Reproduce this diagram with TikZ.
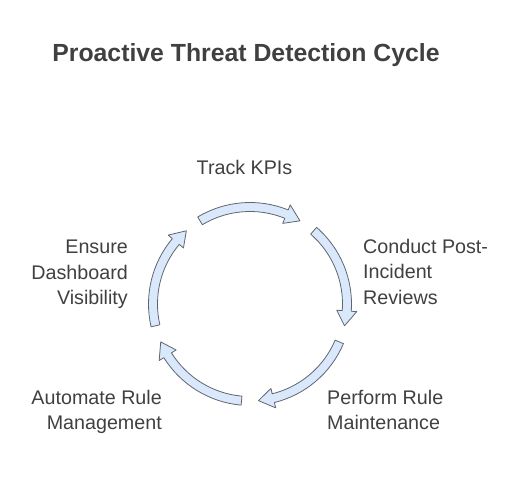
\documentclass[tikz,border=0pt]{standalone}
\usepackage{fontspec}
\setmainfont{Liberation Sans}
\usepackage{tikz}

\definecolor{arrowfill}{HTML}{DAE8FC}
\definecolor{arrowline}{HTML}{5F6670}
\definecolor{labeltext}{HTML}{404040}

% one curved block arrow of the cycle: #1 tail angle, #2 tip angle
\newcommand{\cyclearrow}[2]{%
  \pgfmathsetmacro{\headang}{#2+8.9}
  \draw[cyclearrow] (#1:101.5pt) arc[start angle=#1, end angle=\headang, radius=101.5pt]
     -- (\headang:107pt) -- (#2:97pt) -- (\headang:87pt) -- (\headang:92.5pt)
     arc[start angle=\headang, end angle=#1, radius=92.5pt] -- cycle;}

\begin{document}
\begin{tikzpicture}[x=1pt,y=1pt,
   cyclearrow/.style={fill=arrowfill, draw=arrowline, line width=0.8pt, line join=round},
   steplabel/.style={inner sep=0pt, text=labeltext, font=\fontsize{19.7}{25.5}\selectfont}]

   \useasboundingbox (0,0) rectangle (517,481);

   \node[inner sep=0pt, anchor=base, text=labeltext, font=\fontsize{24.8}{30}\selectfont\bfseries]
      (title) at (246,419) {Proactive Threat Detection Cycle};

   \coordinate (cyc) at (250,177);
   \begin{scope}[shift={(cyc)}]
      \foreach \i in {0,...,4} {
         \pgfmathsetmacro{\cen}{90-72*\i}
         \cyclearrow{\cen+31}{\cen-31}
      }
   \end{scope}

   \node[steplabel, anchor=base] (kpi) at (244.5,306) {Track KPIs};
   \node[steplabel, anchor=north west, align=left] (review) at (363,242) {Conduct Post-\\Incident\\Reviews};
   \node[steplabel, anchor=north west, align=left] (maint) at (327,91) {Perform Rule\\Maintenance};
   \node[steplabel, anchor=north east, align=right] (automate) at (162,91) {Automate Rule\\Management};
   \node[steplabel, anchor=north east, align=right] (visib) at (128,241) {Ensure\\Dashboard\\Visibility};

\end{tikzpicture}
\end{document}
